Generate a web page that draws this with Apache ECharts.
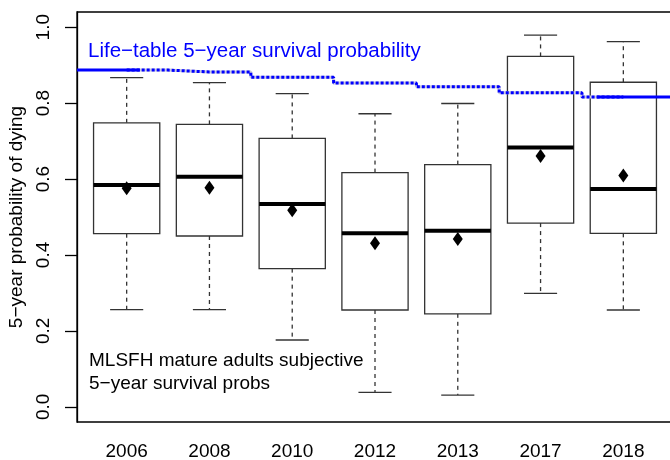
<!DOCTYPE html>
<html>
<head>
<meta charset="utf-8">
<script src="https://cdn.jsdelivr.net/npm/echarts@6/dist/echarts.min.js"></script>
<style>
  html, body { margin: 0; padding: 0; background: #fff; }
  #chart { width: 670px; height: 460px; }
</style>
</head>
<body>
<div id="chart"></div>
<script>
// ---- data ----
const years       = ['2006', '2008', '2010', '2012', '2013', '2017', '2018'];
const whiskerLow  = [0.256, 0.256, 0.176, 0.038, 0.031, 0.299, 0.255];
const q1          = [0.456, 0.450, 0.364, 0.255, 0.245, 0.484, 0.457];
const median      = [0.584, 0.606, 0.534, 0.457, 0.464, 0.683, 0.574];
const q3          = [0.748, 0.744, 0.707, 0.617, 0.638, 0.923, 0.855];
const whiskerHigh = [0.867, 0.854, 0.825, 0.772, 0.799, 0.979, 0.962];
const meanValues  = [0.576, 0.577, 0.518, 0.431, 0.442, 0.661, 0.609];
const lifeTable   = [0.887, 0.882, 0.868, 0.853, 0.843, 0.827, 0.816];
// x positions where the solid life-table line ends / restarts
const lifeSolidLeftEnd = 1.16;
const lifeSolidRightStart = 6.68;
const yTicks = [0, 0.2, 0.4, 0.6, 0.8, 1.0];
const yTickLabels = ['0.0', '0.2', '0.4', '0.6', '0.8', '1.0'];

const xMin = 0.4, xMax = 7.6;
const positions = years.map((_, i) => i + 1);

const boxData = years.map((_, i) => [i + 1, whiskerLow[i], q1[i], median[i], q3[i], whiskerHigh[i]]);
const meanData = years.map((_, i) => [i + 1, meanValues[i]]);
const stepData = years.map((_, i) => [i + 1, lifeTable[i]]);

const FONT = "'Liberation Sans', Arial, Helvetica, sans-serif";
const chart = echarts.init(document.getElementById('chart'), null, { renderer: 'canvas' });

const option = {
  animation: false,
  backgroundColor: '#ffffff',
  textStyle: { fontFamily: FONT },
  grid: {
    left: 77, top: 12, bottom: 38, right: -3,
    outerBoundsMode: 'none',
    containLabel: false,
    show: true, borderColor: '#000', borderWidth: 1.3, backgroundColor: 'transparent'
  },
  title: [
    {
      text: 'Life\u2212table 5\u2212year survival probability',
      left: 88, top: 41,
      textStyle: { color: '#0000ff', fontSize: 20.5, fontWeight: 'normal', fontFamily: FONT },
      padding: 0
    },
    {
      text: 'MLSFH mature adults subjective\n5\u2212year survival probs',
      left: 89, top: 349,
      textStyle: { color: '#000', fontSize: 19, lineHeight: 23, fontWeight: 'normal', fontFamily: FONT },
      padding: 0
    }
  ],
  xAxis: {
    type: 'value',
    min: xMin, max: xMax,
    axisLine: { show: false },
    axisTick: { show: false },
    splitLine: { show: false },
    axisLabel: {
      customValues: positions,
      formatter: v => years[Math.round(v) - 1] || '',
      color: '#000', fontSize: 19, margin: 20, fontFamily: FONT
    }
  },
  yAxis: {
    type: 'value',
    min: -0.04, max: 1.04,
    name: '5\u2212year probability of dying',
    nameLocation: 'middle',
    nameGap: 44,
    nameRotate: 90,
    nameTextStyle: { color: '#000', fontSize: 19, fontFamily: FONT },
    axisLine: { show: true, lineStyle: { color: '#000', width: 1.3 } },
    axisTick: { show: true, customValues: yTicks, length: 12, lineStyle: { color: '#000', width: 1.3 } },
    splitLine: { show: false },
    axisLabel: {
      customValues: yTicks,
      rotate: 90,
      formatter: v => { const i = yTicks.findIndex(t => Math.abs(t - v) < 1e-6); return i >= 0 ? yTickLabels[i] : ''; },
      color: '#000', fontSize: 19, margin: 24, fontFamily: FONT
    }
  },
  series: [
    {
      type: 'custom',
      z: 2,
      data: boxData,
      renderItem: function (params, api) {
        const x = api.value(0);
        const mn = api.value(1), lo = api.value(2), md = api.value(3), hi = api.value(4), mx = api.value(5);
        const hw = 0.4, cw = 0.2;
        const tl = api.coord([x - hw, hi]);
        const br = api.coord([x + hw, lo]);
        const pHi = api.coord([x, hi]), pMx = api.coord([x, mx]);
        const pLo = api.coord([x, lo]), pMn = api.coord([x, mn]);
        const capL = api.coord([x - cw, 0])[0], capR = api.coord([x + cw, 0])[0];
        const mL = api.coord([x - hw, md]), mR = api.coord([x + hw, md]);
        const grey = '#333';
        return {
          type: 'group',
          children: [
            { type: 'line', shape: { x1: pHi[0], y1: pHi[1], x2: pMx[0], y2: pMx[1] },
              style: { stroke: grey, lineWidth: 1.3, lineDash: [4, 4] } },
            { type: 'line', shape: { x1: pLo[0], y1: pLo[1], x2: pMn[0], y2: pMn[1] },
              style: { stroke: grey, lineWidth: 1.3, lineDash: [4, 4] } },
            { type: 'line', shape: { x1: capL, y1: pMx[1], x2: capR, y2: pMx[1] },
              style: { stroke: grey, lineWidth: 1.3 } },
            { type: 'line', shape: { x1: capL, y1: pMn[1], x2: capR, y2: pMn[1] },
              style: { stroke: grey, lineWidth: 1.3 } },
            { type: 'rect', shape: { x: tl[0], y: tl[1], width: br[0] - tl[0], height: br[1] - tl[1] },
              style: { fill: '#fff', stroke: grey, lineWidth: 1.3 } },
            { type: 'line', shape: { x1: mL[0], y1: mL[1], x2: mR[0], y2: mR[1] },
              style: { stroke: '#000', lineWidth: 4 } }
          ]
        };
      }
    },
    {
      type: 'scatter',
      z: 3,
      data: meanData,
      symbol: 'diamond',
      symbolSize: [10, 14],
      itemStyle: { color: '#000', opacity: 1 },
      silent: true
    },
    {
      type: 'line',
      z: 4,
      data: stepData,
      step: 'middle',
      symbol: 'none',
      lineStyle: { color: '#c8c8de', width: 3 },
      silent: true
    },
    {
      type: 'line',
      z: 5,
      data: stepData,
      step: 'middle',
      symbol: 'none',
      lineStyle: { color: '#0000ff', width: 3, type: [3, 2] },
      silent: true
    },
    {
      type: 'line',
      z: 6,
      data: [[xMin, lifeTable[0]], [lifeSolidLeftEnd, lifeTable[0]]],
      symbol: 'none',
      lineStyle: { color: '#0000ff', width: 3 },
      silent: true
    },
    {
      type: 'line',
      z: 6,
      data: [[lifeSolidRightStart, lifeTable[lifeTable.length - 1]], [xMax, lifeTable[lifeTable.length - 1]]],
      symbol: 'none',
      lineStyle: { color: '#0000ff', width: 3 },
      silent: true
    }
  ]
};
chart.setOption(option);
</script>
</body>
</html>
